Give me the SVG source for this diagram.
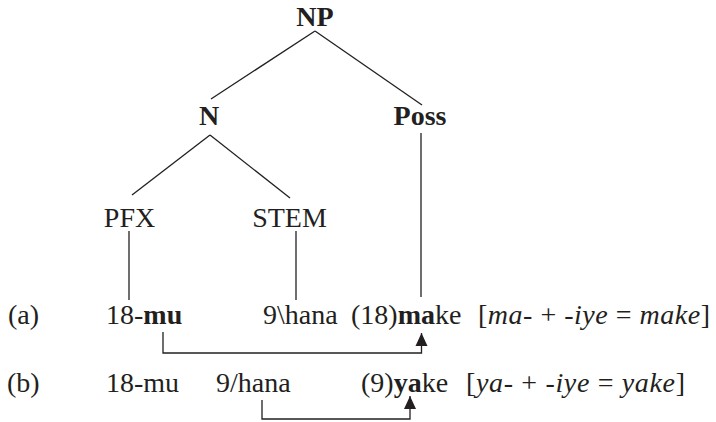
<svg xmlns="http://www.w3.org/2000/svg" width="716" height="422" viewBox="0 0 716 422">
<style>
text{font-family:"Liberation Serif","Times New Roman",serif;font-size:28px;fill:#231f20}
.b{font-weight:bold}
.i{font-style:italic}
.c{text-anchor:middle}
.ln{stroke:#231f20;stroke-width:1.3;fill:none}
</style>
<defs>
<marker id="ah" markerUnits="userSpaceOnUse" markerWidth="14" markerHeight="14" viewBox="0 0 14 12" refX="13" refY="6" orient="auto">
<path d="M0,0 L13,6 L0,12 z" fill="#231f20"/>
</marker>
</defs>
<rect width="716" height="422" fill="#fff"/>
<g id="connectors">
<line class="ln" x1="315" y1="31" x2="211" y2="99"/>
<line class="ln" x1="315" y1="31" x2="422" y2="105"/>
<line class="ln" x1="210" y1="135" x2="132" y2="195"/>
<line class="ln" x1="210" y1="135" x2="290" y2="198"/>
<line class="ln" x1="129" y1="231" x2="129" y2="300"/>
<line class="ln" x1="296" y1="231" x2="296" y2="300"/>
<line class="ln" x1="421" y1="133" x2="421" y2="297"/>
<path class="ln" d="M163,332 V353 H421.5 V333" marker-end="url(#ah)"/>
<path class="ln" d="M262,400 V419 H410 V396" marker-end="url(#ah)"/>
</g>
<g id="NP"><text class="b c" x="315" y="26">NP</text></g>
<g id="N"><text class="b c" x="209" y="125">N</text></g>
<g id="Poss"><text class="b c" x="420" y="125">Poss</text></g>
<g id="PFX"><text class="c" x="129.5" y="227">PFX</text></g>
<g id="STEM"><text class="c" x="289.5" y="227">STEM</text></g>
<g id="row-a">
<text x="8" y="324">(a)</text>
<text x="106" y="324">18-<tspan class="b">mu</tspan></text>
<text x="263" y="324">9\hana</text>
<text x="351" y="324">(18)<tspan class="b">ma</tspan>ke</text>
<text x="478" y="324" textLength="232" lengthAdjust="spacing">[<tspan class="i">ma</tspan>- + -<tspan class="i">iye</tspan> = <tspan class="i">make</tspan>]</text>
</g>
<g id="row-b">
<text x="7" y="392">(b)</text>
<text x="106" y="392">18-mu</text>
<text x="216" y="392">9/hana</text>
<text x="361" y="392">(9)<tspan class="b">ya</tspan>ke</text>
<text x="466" y="392" textLength="219" lengthAdjust="spacing">[<tspan class="i">ya- </tspan>+ <tspan class="i">-iye</tspan> = <tspan class="i">yake</tspan>]</text>
</g>
</svg>
